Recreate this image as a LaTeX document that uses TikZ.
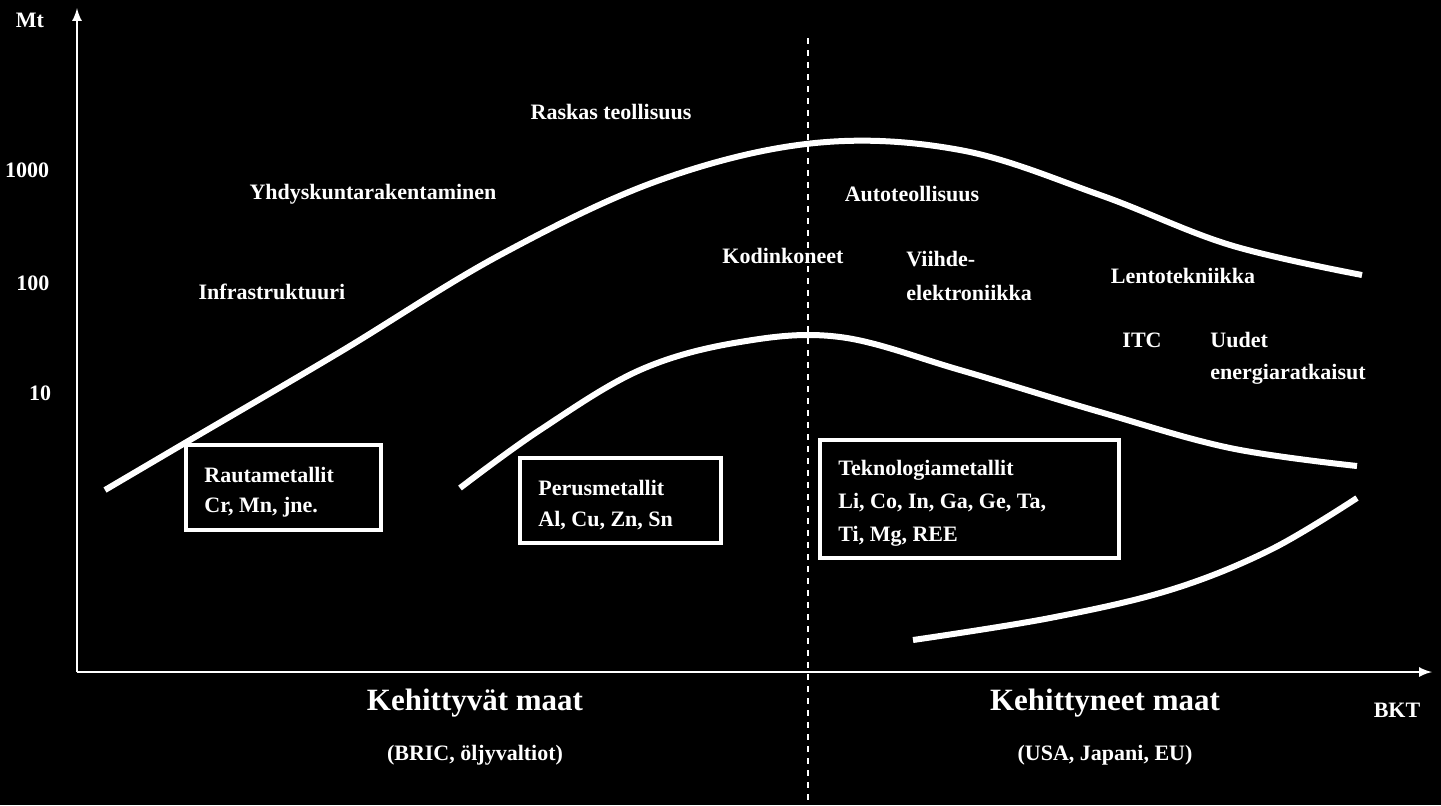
\documentclass[tikz,border=0pt]{standalone}
\usepackage{fontspec}
\setmainfont{Liberation Serif}
\begin{document}
\begin{tikzpicture}[x=0.5pt,y=-0.5pt,
  lbl/.style={text=white,font=\bfseries\fontsize{11}{12.5}\selectfont,inner sep=0pt},
  big/.style={text=white,font=\bfseries\fontsize{15.5}{17}\selectfont,inner sep=0pt},
  curve/.style={white,line width=3pt},
  box/.style={draw=white,line width=2pt}]
\fill[black] (0,0) rectangle (1441,805);
\useasboundingbox (0,0) rectangle (1441,805);
% axes
\coordinate (o) at (77,672);
\coordinate (ytop) at (77,8);
\coordinate (xend) at (1432,672);
\draw[white,line width=1.2pt,-latex] (o) -- (ytop);
\draw[white,line width=1.2pt,-latex] (o) -- (xend);
\coordinate (d1) at (808,38);
\coordinate (d2) at (808,805);
\draw[white,line width=0.8pt,dashed] (d1) -- (d2);
% curves
\draw[curve] plot[smooth,tension=0.6] coordinates {(105,490) (190,440) (340,352) (500,255) (660,180) (815,143) (960,150) (1100,195) (1230,245) (1362,275)};
\draw[curve] plot[smooth,tension=0.6] coordinates {(460,488) (540,430) (640,370) (740,342) (840,337) (960,370) (1100,412) (1230,448) (1357,466)};
\draw[curve] plot[smooth,tension=0.6] coordinates {(913,640) (1050,618) (1170,590) (1270,550) (1357,498)};
% boxes
\draw[box] (186,445) rectangle (381,530);
\draw[box] (520,458) rectangle (721,543);
\draw[box] (820,440) rectangle (1119,558);
\node[lbl,anchor=west] (b1) at (204,475) {Rautametallit};
\node[lbl,anchor=west] (b1b) at (204,507) {Cr, Mn, jne.};
\node[lbl,anchor=west] (b2) at (538,488) {Perusmetallit};
\node[lbl,anchor=west] (b2b) at (538,521) {Al, Cu, Zn, Sn};
\node[lbl,anchor=west] (b3) at (838,470) {Teknologiametallit};
\node[lbl,anchor=west] (b3b) at (838,503) {Li, Co, In, Ga, Ge, Ta,};
\node[lbl,anchor=west] (b3c) at (838,536) {Ti, Mg, REE};
% axis labels
\node[lbl] (mt) at (30,20) {Mt};
\node[lbl] (t1000) at (27,170) {1000};
\node[lbl] (t100) at (33,283) {100};
\node[lbl] (t10) at (40,393) {10};
\node[lbl] (bkt) at (1397,710) {BKT};
% sector labels
\node[lbl] (r) at (611,112) {Raskas teollisuus};
\node[lbl] (y) at (373,194) {Yhdyskuntarakentaminen};
\node[lbl] (i) at (272,292) {Infrastruktuuri};
\node[lbl] (a) at (912,194) {Autoteollisuus};
\node[lbl] (k) at (783,256) {Kodinkoneet};
\node[lbl,anchor=west] (v1) at (906,259) {Viihde-};
\node[lbl,anchor=west] (v2) at (906,293) {elektroniikka};
\node[lbl] (l) at (1183,276) {Lentotekniikka};
\node[lbl] (itc) at (1142,340) {ITC};
\node[lbl,anchor=west] (u1) at (1210,340) {Uudet};
\node[lbl,anchor=west] (u2) at (1210,374) {energiaratkaisut};
% bottom
\node[big] (km) at (475,703) {Kehittyvät maat};
\node[lbl] (bric) at (475,755) {(BRIC, öljyvaltiot)};
\node[big] (kn) at (1105,703) {Kehittyneet maat};
\node[lbl] (usa) at (1105,755) {(USA, Japani, EU)};
\end{tikzpicture}
\end{document}
